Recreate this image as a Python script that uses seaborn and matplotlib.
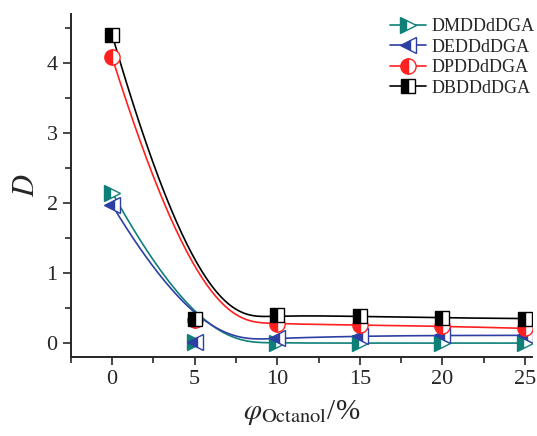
import numpy as np
import matplotlib
matplotlib.use("Agg")
import matplotlib.pyplot as plt
from matplotlib.ticker import MultipleLocator
import seaborn as sns

# data
octanol = [0, 5, 10, 15, 20, 25]
dm_ddgda = [2.15, 0.02, 0.0, 0.0, 0.0, 0.0]
de_ddgda = [1.97, 0.02, 0.07, 0.10, 0.11, 0.11]
dp_ddgda = [4.08, 0.33, 0.27, 0.26, 0.24, 0.21]
db_ddgda = [4.40, 0.34, 0.40, 0.38, 0.36, 0.35]
names = ["DMDDdDGA", "DEDDdDGA", "DPDDdDGA", "DBDDdDGA"]


def bspline(px, py, k=3, num=300):
    # clamped B-spline that uses the data points as control points
    px = np.asarray(px, float)
    py = np.asarray(py, float)
    m = len(px)
    knots = np.r_[np.zeros(k), np.linspace(0, 1, m - k + 1), np.ones(k)]
    t = np.linspace(0, 1, num)
    t[-1] -= 1e-9
    N = np.array([((knots[i] <= t) & (t < knots[i + 1])).astype(float)
                  for i in range(len(knots) - 1)])
    for d in range(1, k + 1):
        Nn = np.zeros((len(knots) - 1 - d, num))
        for i in range(len(knots) - 1 - d):
            a = knots[i + d] - knots[i]
            b = knots[i + d + 1] - knots[i + 1]
            left = (t - knots[i]) / a * N[i] if a > 0 else 0
            right = (knots[i + d + 1] - t) / b * N[i + 1] if b > 0 else 0
            Nn[i] = left + right
        N = Nn
    return N.T @ px, N.T @ py


sns.set_style("ticks")
plt.rcParams["font.family"] = ["Liberation Serif", "DejaVu Serif"]
plt.rcParams["mathtext.fontset"] = "stix"

fig = plt.figure(figsize=(5.37, 4.36), dpi=100)
ax = fig.add_axes([0.132, 0.181, 0.858, 0.787])

series = [dm_ddgda, de_ddgda, dp_ddgda, db_ddgda]
colors = ["#0E8078", "#2E3FA3", "#FF2020", "#000000"]
markers = [">", "<", "o", "s"]
sizes = [12, 12, 11, 10]

handles = []
for ys, c, mk, ms, nm in zip(series, colors, markers, sizes, names):
    cx, cy = bspline(octanol, ys)
    sns.lineplot(x=cx, y=cy, ax=ax, color=c, lw=1.2, sort=False, zorder=2)
    ax.plot(octanol, ys, ls="none", marker=mk, ms=ms, mec=c, mfc=c,
            fillstyle="left", markerfacecoloralt="white", mew=1.0, zorder=3)
    h, = ax.plot([], [], color=c, lw=1.2, marker=mk, ms=ms, mec=c, mfc=c,
                 fillstyle="left", markerfacecoloralt="white", mew=1.0)
    handles.append(h)

ax.set_xlim(-2.5, 25.4)
ax.set_ylim(-0.2, 4.7)
ax.xaxis.set_major_locator(MultipleLocator(5))
ax.xaxis.set_minor_locator(MultipleLocator(2.5))
ax.yaxis.set_major_locator(MultipleLocator(1))
ax.yaxis.set_minor_locator(MultipleLocator(0.5))
ax.tick_params(which="major", direction="out", length=6, width=1.2, labelsize=16)
ax.tick_params(which="minor", direction="out", length=4, width=1.2)
for s in ["left", "bottom"]:
    ax.spines[s].set_linewidth(1.4)
sns.despine(ax=ax)

ax.set_ylabel(r"$D$", fontsize=22, labelpad=4)
ax.set_xlabel(r"$\varphi_{\mathrm{Octanol}}$/%", fontsize=21, labelpad=6)

ax.legend(handles, names, loc="upper right", bbox_to_anchor=(1.03, 1.02),
          frameon=False, fontsize=13, handlelength=2.0, handletextpad=0.3,
          labelspacing=0.2, borderaxespad=0.2)

fig.savefig("out.png", dpi=100)
